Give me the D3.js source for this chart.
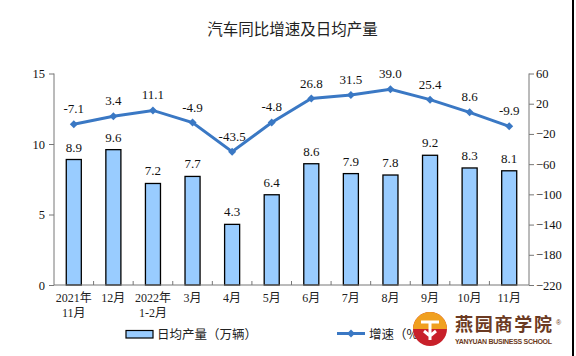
<!DOCTYPE html>
<html><head><meta charset="utf-8">
<script src="https://cdn.jsdelivr.net/npm/d3@7"></script>
<style>
body{margin:0;background:#fff;}
svg{display:block;}
</style></head>
<body><svg id="c" width="576" height="356"></svg>
<script>
const categories = [["2021年","11月"],["12月"],["2022年","1-2月"],["3月"],["4月"],["5月"],["6月"],["7月"],["8月"],["9月"],["10月"],["11月"]];
const dailyOutput = [8.9, 9.6, 7.2, 7.7, 4.3, 6.4, 8.6, 7.9, 7.8, 9.2, 8.3, 8.1];
const growth = [-7.1, 3.4, 11.1, -4.9, -43.5, -4.8, 26.8, 31.5, 39.0, 25.4, 8.6, -9.9];
const leftTicks = [0, 5, 10, 15];
const rightTicks = [60, 20, -20, -60, -100, -140, -180, -220];
const title = "汽车同比增速及日均产量";
const legendBar = "日均产量（万辆）";
const legendLine = "增速（%）";

const svg = d3.select("#c");
const serif = "'Liberation Serif','Noto Sans CJK SC',serif";
const cjk = "'Noto Sans CJK SC',sans-serif";
const L = 54, R = 529, T = 73.5, B = 285;
const ids = categories.map((d,i)=>i);
const x = d3.scaleBand().domain(ids).range([L,R]).paddingInner(0.62).paddingOuter(0.31);
const xb = d3.scaleBand().domain(ids).range([L,R]);
const yL = d3.scaleLinear().domain([0,15]).range([B,T]);
const yR = d3.scaleLinear().domain([-220,60]).range([B,T]);

// title
svg.append("text").attr("x",292.5).attr("y",35).attr("text-anchor","middle")
  .attr("font-family",cjk).attr("font-size",15.5).attr("fill","#222").text(title);

// bars
svg.append("g").selectAll("rect").data(dailyOutput).join("rect")
  .attr("x",(d,i)=>x(i)).attr("width",x.bandwidth())
  .attr("y",d=>yL(d)).attr("height",d=>B-yL(d))
  .attr("fill","#99ccff").attr("stroke","#000").attr("stroke-width",1.3);

svg.append("g").selectAll("text").data(dailyOutput).join("text")
  .attr("x",(d,i)=>x(i)+x.bandwidth()/2).attr("y",d=>yL(d)-8)
  .attr("text-anchor","middle").attr("font-family",serif).attr("font-size",13).attr("fill","#111")
  .text(d=>d.toFixed(1));

// axes
const gl = svg.append("g").attr("transform",`translate(${L},0)`)
  .call(d3.axisLeft(yL).tickValues(leftTicks).tickSize(5).tickPadding(4).tickFormat(d3.format("d")));
const gr = svg.append("g").attr("transform",`translate(${R},0)`)
  .call(d3.axisRight(yR).tickValues(rightTicks).tickSize(5).tickPadding(2).tickFormat(d3.format("d")));
[gl,gr].forEach(g=>{
  g.select(".domain").attr("stroke","#777").attr("d",`M0,${T}V${B}`);
  g.selectAll(".tick line").attr("stroke","#777");
  g.selectAll("text").attr("font-family",serif).attr("font-size",12.5).attr("fill","#111");
});

// bottom axis
const gx = svg.append("g");
gx.append("line").attr("x1",L).attr("x2",R).attr("y1",B).attr("y2",B).attr("stroke","#777");
gx.selectAll("line.t").data(ids.slice(1)).join("line").attr("class","t")
  .attr("x1",d=>xb(d)).attr("x2",d=>xb(d)).attr("y1",B).attr("y2",B-4).attr("stroke","#777");
categories.forEach((c,i)=>{
  c.forEach((s,j)=>{
    gx.append("text").attr("x",xb(i)+xb.bandwidth()/2).attr("y",302+j*14.5)
      .attr("text-anchor","middle").attr("font-family",serif).attr("font-size",12).attr("fill","#222").text(s);
  });
});

// line
const line = d3.line().x((d,i)=>xb(i)+xb.bandwidth()/2).y(d=>yR(d));
svg.append("path").datum(growth).attr("d",line).attr("fill","none")
  .attr("stroke","#3a78c4").attr("stroke-width",3);
svg.append("g").selectAll("path").data(growth).join("path")
  .attr("transform",(d,i)=>`translate(${xb(i)+xb.bandwidth()/2},${yR(d)})`)
  .attr("d","M0,-4L4,0L0,4L-4,0Z").attr("fill","#3a78c4");
svg.append("g").selectAll("text").data(growth).join("text")
  .attr("x",(d,i)=>xb(i)+xb.bandwidth()/2).attr("y",d=>yR(d)-11)
  .attr("text-anchor","middle").attr("font-family",serif).attr("font-size",13).attr("fill","#111")
  .text(d=>d.toFixed(1));

// legend
svg.append("rect").attr("x",126).attr("y",330.5).attr("width",27).attr("height",7.5)
  .attr("fill","#99ccff").attr("stroke","#000").attr("stroke-width",1.2);
svg.append("text").attr("x",157).attr("y",339).attr("font-family",cjk)
  .attr("font-size",12.5).attr("fill","#222").text(legendBar);
svg.append("line").attr("x1",337).attr("x2",365).attr("y1",333.5).attr("y2",333.5).attr("stroke","#3a78c4").attr("stroke-width",3);
svg.append("path").attr("transform","translate(351,333.5)").attr("d","M0,-4L4,0L0,4L-4,0Z").attr("fill","#3a78c4");
svg.append("text").attr("x",369).attr("y",339).attr("font-family",cjk)
  .attr("font-size",12.5).attr("fill","#222").text(legendLine);

// watermark logo
const wm = svg.append("g");
wm.append("circle").attr("cx",430).attr("cy",329).attr("r",17).attr("fill","#c8202a");
wm.append("path").attr("d","M413,329A17,17 0 0 1 447,329Z").attr("fill","#f0a020");
wm.append("path").attr("d","M421,322L439,322M430,322L430,340M424,331L430,336L436,331")
  .attr("stroke","#fff").attr("stroke-width",3).attr("fill","none");
wm.append("text").attr("x",455).attr("y",331).attr("textLength",97).attr("font-family",cjk)
  .attr("font-weight","bold").attr("font-size",18).attr("fill","#6b3a22").text("燕园商学院");
wm.append("text").attr("x",455).attr("y",343.5).attr("textLength",97).attr("font-family","'Liberation Sans',sans-serif")
  .attr("font-weight","bold").attr("font-size",7).attr("fill","#6b3a22").text("YANYUAN BUSINESS SCHOOL");
wm.append("text").attr("x",556).attr("y",325).attr("font-family","'Liberation Sans',sans-serif")
  .attr("font-size",7).attr("fill","#6b3a22").text("®");

// right border
svg.append("line").attr("x1",573).attr("x2",573).attr("y1",0).attr("y2",356).attr("stroke","#000").attr("stroke-width",2);
</script></body></html>
